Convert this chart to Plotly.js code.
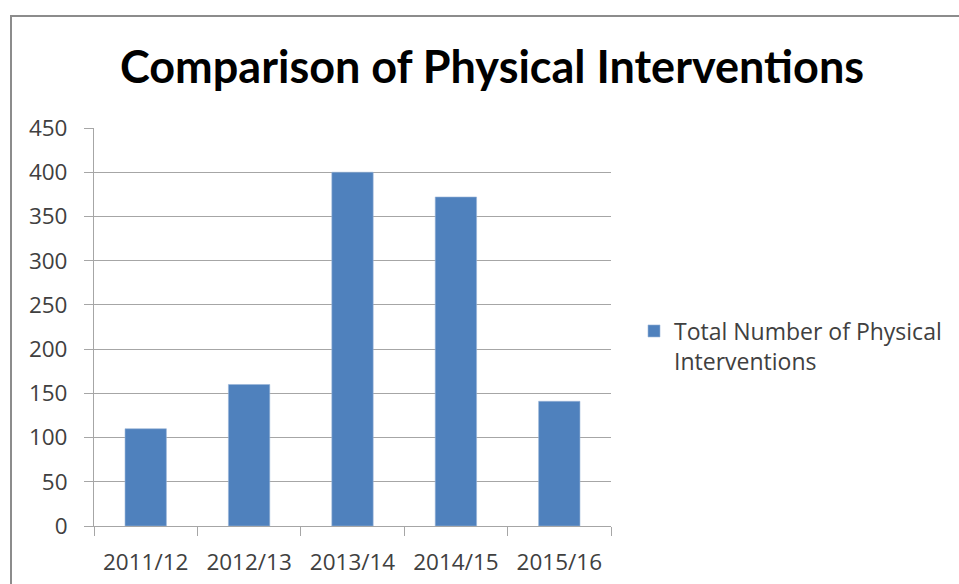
<!DOCTYPE html>
<html>
<head>
<meta charset="utf-8">
<script src="https://cdn.plot.ly/plotly-3.0.1.min.js"></script>
<style>
html,body{margin:0;padding:0;background:#fff;}
#chart{width:959px;height:584px;}
</style>
</head>
<body>
<div id="chart"></div>
<script>
const categories = ["2011/12", "2012/13", "2013/14", "2014/15", "2015/16"];
const seriesName = "Total Number of Physical<br>Interventions";
const values = [110, 160, 400, 372, 141];
const yTickValues = [0, 50, 100, 150, 200, 250, 300, 350, 400, 450];

const W = 959, H = 584;
const L = 94, R = 611, T = 128, B = 526;
const px2x = p => (p - L) / (R - L);
const px2y = p => (B - p) / (B - T);

const gridCol = "#a6a6a6";
const textCol = "#404040";
const titleFam = "Lato, 'Open Sans', sans-serif";
const bodyFam = "'Open Sans', Lato, sans-serif";

const trace = {
  type: "bar",
  x: categories,
  y: values,
  name: seriesName,
  marker: {color: "#4f81bd", line: {color: "#9bb5d8", width: 0.6}},
  hoverinfo: "x+y"
};

const layout = {
  width: W, height: H,
  margin: {l: L, r: W - R, t: T, b: H - B, pad: 0},
  paper_bgcolor: "#ffffff",
  plot_bgcolor: "#ffffff",
  bargap: 0.6,
  showlegend: true,
  title: {
    text: "<b>Comparison of Physical Interventions</b>",
    font: {family: titleFam, size: 45, color: "#000000"},
    xref: "container", yref: "container",
    x: 492 / W, xanchor: "center",
    y: 1 - 67 / H, yanchor: "middle"
  },
  xaxis: {
    type: "category",
    showline: true, linecolor: gridCol, linewidth: 1,
    ticks: "outside", ticklen: 9, tickcolor: gridCol, tickwidth: 1,
    tickson: "boundaries",
    ticklabelstandoff: 16,
    showgrid: false,
    tickfont: {family: bodyFam, size: 22.5, color: textCol},
    fixedrange: true
  },
  yaxis: {
    range: [0, 450],
    tickvals: yTickValues,
    ticktext: yTickValues.map(String),
    showline: true, linecolor: gridCol, linewidth: 1,
    ticks: "outside", ticklen: 9, tickcolor: gridCol, tickwidth: 1,
    ticklabelstandoff: 12,
    showgrid: true, gridcolor: gridCol, gridwidth: 1,
    zeroline: false,
    tickfont: {family: bodyFam, size: 22.5, color: textCol},
    fixedrange: true
  },
  legend: {
    x: px2x(634), xanchor: "left",
    y: px2y(346), yanchor: "middle",
    valign: "top",
    font: {family: bodyFam, size: 23, color: textCol},
    bgcolor: "rgba(0,0,0,0)"
  },
  shapes: [{
    type: "rect", xref: "paper", yref: "paper",
    x0: px2x(11), x1: px2x(970),
    y0: px2y(16), y1: px2y(600),
    line: {color: "#8c8c8c", width: 2},
    fillcolor: "rgba(0,0,0,0)",
    layer: "below"
  }]
};

Plotly.newPlot("chart", [trace], layout, {displayModeBar: false, staticPlot: true});
</script>
</body>
</html>
